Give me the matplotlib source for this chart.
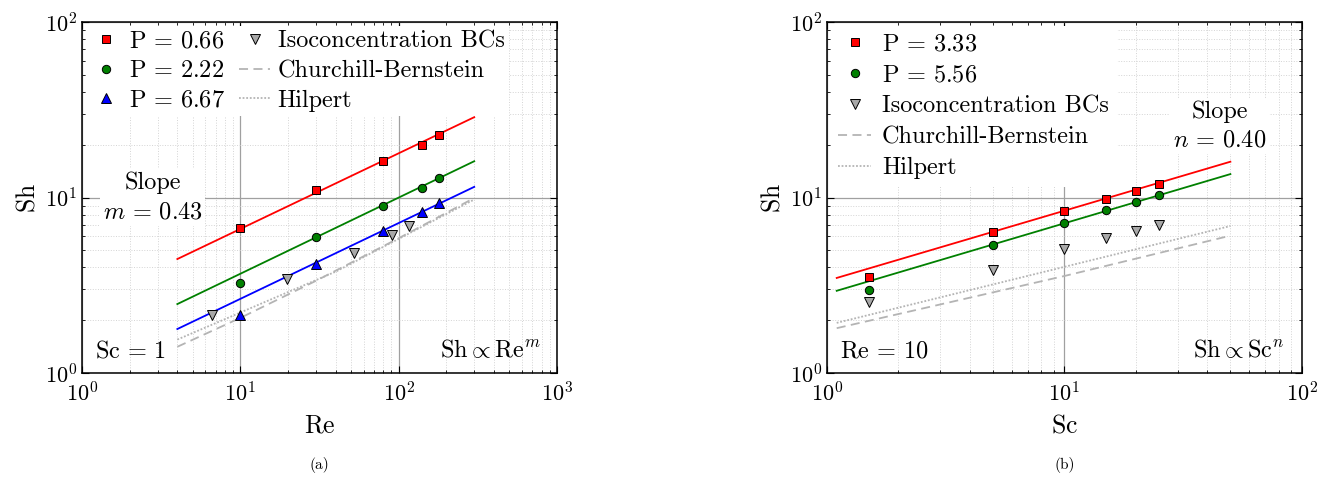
import matplotlib
matplotlib.use("Agg")
import matplotlib.pyplot as plt

plt.rcParams['font.family'] = ['cmr10', 'DejaVu Serif']
plt.rcParams['mathtext.fontset'] = 'cm'
plt.rcParams['axes.formatter.use_mathtext'] = True

# (a) Sh vs Re, Sc = 1
re_pts = [10, 30, 80, 140, 180]
sh_p066 = [6.7, 11.0, 16.1, 19.9, 22.7]
sh_p222 = [3.26, 5.96, 8.9, 11.3, 12.9]
sh_p667 = [2.14, 4.18, 6.44, 8.26, 9.3]
re_iso = [6.6, 19.7, 52, 91, 116]
sh_iso_a = [2.14, 3.43, 4.83, 6.1, 6.9]
re_fit = [4, 300]
fit_p066 = [4.46, 28.7]
fit_p222 = [2.47, 16.1]
fit_p667 = [1.78, 11.5]
re_cb = [4, 10, 30, 100, 300]
sh_cb_a = [1.41, 2.06, 3.35, 5.86, 9.94]
re_hil = [4, 40, 300]
sh_hil_a = [1.55, 3.78, 9.74]

# (b) Sh vs Sc, Re = 10
sc_pts = [1.5, 5, 10, 15, 20, 25]
sh_p333 = [3.54, 6.36, 8.41, 9.8, 10.9, 11.9]
sh_p556 = [2.96, 5.38, 7.18, 8.45, 9.43, 10.3]
sh_iso_b = [2.55, 3.85, 5.09, 5.85, 6.47, 6.97]
sc_fit = [1.1, 50]
fit_p333 = [3.48, 16.0]
fit_p556 = [2.94, 13.6]
sc_cb = [1.1, 10, 50]
sh_cb_b = [1.80, 3.57, 6.06]
sc_hil = [1.1, 50]
sh_hil_b = [1.93, 6.88]

fs = 17.5
mk = dict(markeredgecolor='black', markeredgewidth=0.7, linestyle='none')
iso_col = '#a8a8a8'
corr_col = '#b4b4b4'
dash = (0, (5, 3))
dot = (0, (1, 1))


def style(ax):
    ax.set_xscale('log')
    ax.set_yscale('log')
    ax.set_ylim(1, 100)
    ax.grid(which='major', color='#a0a0a0', linewidth=0.9, linestyle='-')
    ax.grid(which='minor', color='#d4d4d4', linewidth=0.7, linestyle=':')
    ax.set_axisbelow(True)
    ax.tick_params(which='both', direction='in', top=True, right=True, labelsize=16)
    ax.tick_params(which='major', length=5)
    ax.tick_params(which='minor', length=2.5)
    ax.tick_params(axis='x', which='major', pad=6)
    for s in ax.spines.values():
        s.set_linewidth(1.1)


fig = plt.figure(figsize=(13.38, 4.8), dpi=100)
ax1 = fig.add_axes([0.0613, 0.223, 0.355, 0.731])
ax2 = fig.add_axes([0.618, 0.223, 0.355, 0.731])

# panel (a)
style(ax1)
ax1.set_xlim(1, 1000)
ax1.plot(re_fit, fit_p066, color='red', lw=1.3)
ax1.plot(re_fit, fit_p222, color='green', lw=1.3)
ax1.plot(re_fit, fit_p667, color='blue', lw=1.3)
ax1.plot(re_cb, sh_cb_a, color=corr_col, lw=1.3, ls=dash)
ax1.plot(re_hil, sh_hil_a, color=corr_col, lw=1.3, ls=dot)
h1, = ax1.plot(re_pts, sh_p066, marker='s', color='red', ms=5.6, **mk)
h2, = ax1.plot(re_pts, sh_p222, marker='o', color='green', ms=6, **mk)
h3, = ax1.plot(re_pts, sh_p667, marker='^', color='blue', ms=6.5, **mk)
h4, = ax1.plot(re_iso, sh_iso_a, marker='v', color=iso_col, ms=6.5, **mk)
h5, = ax1.plot([], [], color=corr_col, lw=1.3, ls=dash)
h6, = ax1.plot([], [], color=corr_col, lw=1.3, ls=dot)
ax1.legend([h1, h2, h3, h4, h5, h6],
           [r'$\mathrm{P}\,=\,0.66$', r'$\mathrm{P}\,=\,2.22$', r'$\mathrm{P}\,=\,6.67$',
            'Isoconcentration BCs', 'Churchill-Bernstein', 'Hilpert'],
           ncol=2, loc='upper left', fontsize=fs, frameon=True, framealpha=1,
           edgecolor='none', fancybox=False, handlelength=1.3, handletextpad=0.3,
           labelspacing=0.3, columnspacing=0.55, borderaxespad=0.15, borderpad=0.2)
ax1.text(0.149, 0.50, 'Slope\n' + r'$m\,=\,0.43$', transform=ax1.transAxes, fontsize=fs,
         ha='center', va='center', linespacing=1.4,
         bbox=dict(facecolor='white', edgecolor='none', pad=2))
ax1.text(0.028, 0.06, r'$\mathrm{Sc}\,=\,1$', transform=ax1.transAxes, fontsize=fs,
         ha='left', va='center')
ax1.text(0.966, 0.065, r'$\mathrm{Sh} \propto \mathrm{Re}^m$', transform=ax1.transAxes,
         fontsize=fs, ha='right', va='center')
ax1.set_xlabel(r'$\mathrm{Re}$', fontsize=18.5, labelpad=6)
ax1.set_ylabel(r'$\mathrm{Sh}$', fontsize=18.5, labelpad=4)

# panel (b)
style(ax2)
ax2.set_xlim(1, 100)
ax2.plot(sc_fit, fit_p333, color='red', lw=1.3)
ax2.plot(sc_fit, fit_p556, color='green', lw=1.3)
ax2.plot(sc_cb, sh_cb_b, color=corr_col, lw=1.3, ls=dash)
ax2.plot(sc_hil, sh_hil_b, color=corr_col, lw=1.3, ls=dot)
g1, = ax2.plot(sc_pts, sh_p333, marker='s', color='red', ms=5.6, **mk)
g2, = ax2.plot(sc_pts, sh_p556, marker='o', color='green', ms=6, **mk)
g3, = ax2.plot(sc_pts, sh_iso_b, marker='v', color=iso_col, ms=6.5, **mk)
g4, = ax2.plot([], [], color=corr_col, lw=1.3, ls=dash)
g5, = ax2.plot([], [], color=corr_col, lw=1.3, ls=dot)
ax2.legend([g1, g2, g3, g4, g5],
           [r'$\mathrm{P}\,=\,3.33$', r'$\mathrm{P}\,=\,5.56$', 'Isoconcentration BCs',
            'Churchill-Bernstein', 'Hilpert'],
           loc='upper left', fontsize=fs, frameon=True, framealpha=1,
           edgecolor='none', fancybox=False, handlelength=1.35, handletextpad=0.45,
           labelspacing=0.36, borderaxespad=0.15, borderpad=0.32)
ax2.text(0.827, 0.704, 'Slope\n' + r'$n\,=\,0.40$', transform=ax2.transAxes, fontsize=fs,
         ha='center', va='center', linespacing=1.4,
         bbox=dict(facecolor='white', edgecolor='none', pad=2))
ax2.text(0.028, 0.06, r'$\mathrm{Re}\,=\,10$', transform=ax2.transAxes, fontsize=fs,
         ha='left', va='center')
ax2.text(0.963, 0.065, r'$\mathrm{Sh} \propto \mathrm{Sc}^n$', transform=ax2.transAxes,
         fontsize=fs, ha='right', va='center')
ax2.set_xlabel(r'$\mathrm{Sc}$', fontsize=18.5, labelpad=6)
ax2.set_ylabel(r'$\mathrm{Sh}$', fontsize=18.5, labelpad=4)

fig.text(0.2385, 0.031, '(a)', fontsize=11, ha='center', va='center')
fig.text(0.796, 0.031, '(b)', fontsize=11, ha='center', va='center')

fig.savefig('out.png', dpi=100)
